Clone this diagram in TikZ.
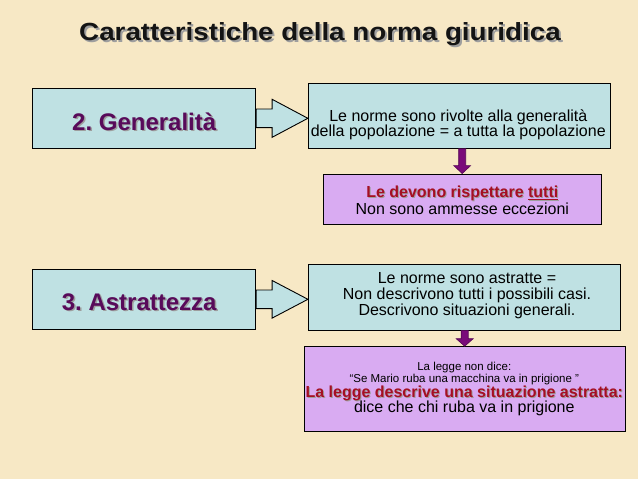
\documentclass[tikz,border=0pt]{standalone}
\usepackage{fontspec}
\setmainfont{Liberation Sans}
\newfontfamily\titlefont[FakeStretch=1.12]{Liberation Sans}
\usepackage{xcolor}
\usetikzlibrary{calc}

\definecolor{bgpaper}{RGB}{247,232,197}
\definecolor{tealbox}{RGB}{191,225,227}
\definecolor{lilacbox}{RGB}{217,171,242}
\definecolor{plumtext}{RGB}{88,10,90}
\definecolor{redtext}{RGB}{165,15,35}
\definecolor{plumarrow}{RGB}{122,10,122}

\newcommand{\withshadow}[3][1.5pt]{\makebox[0pt][l]{\hspace*{#1}\raisebox{-#1}{\textcolor{black!38}{#3}}}\textcolor{#2}{#3}}
\frenchspacing

\begin{document}
\begin{tikzpicture}[x=1pt,y=-1pt,
    tealrect/.style={draw=black,line width=0.9pt,fill=tealbox,inner sep=0pt},
    lilacrect/.style={draw=black,line width=0.9pt,fill=lilacbox,inner sep=0pt},
    rarrow/.style={draw=black,line width=0.9pt,fill=tealbox,line join=miter},
    darrow/.style={draw=plumarrow!70!black,line width=0.6pt,fill=plumarrow},
    headtext/.style={font=\fontsize{24}{28}\selectfont\bfseries,anchor=base,inner sep=0pt},
    deftext/.style={font=\fontsize{16}{15.4}\selectfont,align=center,anchor=base,inner sep=0pt}]

      \fill[bgpaper] (0,0) rectangle (638,479);
      \useasboundingbox (0,0) rectangle (638,479);

      \node[headtext,font=\titlefont\fontsize{24.8}{28}\selectfont\bfseries] (title) at (320,40) {\withshadow[2pt]{black!92}{Caratteristiche della norma giuridica}};

      % first row: generalita'
      \node[tealrect,minimum width=223pt,minimum height=60pt] (gen) at (144.2,118.3) {};
      \node[tealrect,minimum width=302.4pt,minimum height=65pt] (def1) at (459.5,115.8) {};
      \node[lilacrect,minimum width=277.7pt,minimum height=50pt] (cons1) at (462.2,199) {};

      \draw[rarrow] ($(gen.east)+(0,-9.3)$) -- ++(16,0) -- ++(0,-9.7) -- (gen.east -| def1.west)
        -- ($(gen.east)+(16,19)$) -- ++(0,-9.7) -- ($(gen.east)+(0,9.3)$) -- cycle;
      \draw[darrow] ($(def1.south -| cons1.north)+(-3.5,0)$) -- ($(cons1.north)+(-3.5,-8)$) -- ++(-5,0)
        -- (cons1.north) -- ++(8.5,-8) -- ++(-5,0) -- ($(def1.south -| cons1.north)+(3.5,0)$) -- cycle;

      \node[headtext] (gentext) at (144.2,130) {\withshadow{plumtext}{2. Generalità}};
      \node[deftext] (def1text) at (458.3,136.7) {Le norme sono rivolte alla generalità\\della popolazione = a tutta la popolazione};
      \node[deftext,font=\fontsize{16}{16.7}\selectfont] (cons1text) at (462.3,214) {{\bfseries\withshadow[1pt]{redtext}{Le devono rispettare \underline{tutti}}}\\Non sono ammesse eccezioni};

      % second row: astrattezza
      \node[tealrect,minimum width=223pt,minimum height=60pt] (astr) at (144.2,299.3) {};
      \node[tealrect,minimum width=311.7pt,minimum height=66pt] (def2) at (464.2,297) {};
      \node[lilacrect,minimum width=320.7pt,minimum height=84.3pt] (cons2) at (464.7,388.8) {};

      \draw[rarrow] ($(astr.east)+(0,-9.3)$) -- ++(16,0) -- ++(0,-9.5) -- (astr.east -| def2.west)
        -- ($(astr.east)+(16,18.8)$) -- ++(0,-9.5) -- ($(astr.east)+(0,9.3)$) -- cycle;
      \draw[darrow] ($(def2.south -| cons2.north)+(-3.5,0)$) -- ($(cons2.north)+(-3.5,-7.5)$) -- ++(-5,0)
        -- (cons2.north) -- ++(8.5,-7.5) -- ++(-5,0) -- ($(def2.south -| cons2.north)+(3.5,0)$) -- cycle;

      \node[headtext] (astrtext) at (139.2,310) {\withshadow{plumtext}{3. Astrattezza}};
      \node[deftext,font=\fontsize{16}{16}\selectfont] (def2text) at (467,315.3) {Le norme sono astratte =\\Non descrivono tutti i possibili casi.\\Descrivono situazioni generali.};
      \node[deftext] (cons2text) at (464.3,412.7) {{\fontsize{11.5}{12}\selectfont La legge non dice:}\\[-3.1pt]{\fontsize{11.5}{12}\selectfont “Se Mario ruba una macchina va in prigione ”}\\[-0.4pt]{\bfseries\withshadow[1pt]{redtext}{La legge descrive una situazione astratta:}}\\[-1.7pt]dice che chi ruba va in prigione};

    \end{tikzpicture}
\end{document}
